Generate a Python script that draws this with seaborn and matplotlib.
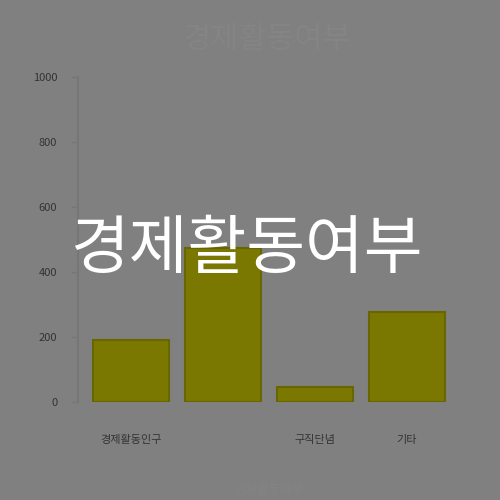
import numpy as np
import pandas as pd
import matplotlib.pyplot as plt
import seaborn as sns

# ==================== 데이터 ====================
categories = ["경제활동인구", "비경제활동인구", "구직단념", "기타"]
tick_labels = ["경제활동인구", "", "구직단념", "기타"]   # 두 번째 라벨은 겹쳐서 생략됨
counts = [190, 475, 46, 277]
y_ticks = [0, 200, 400, 600, 800, 1000]
title_text = "경제활동여부"

df = pd.DataFrame({"category": categories, "count": counts})

# ==================== 스타일 ====================
sns.set_theme(style="ticks")
plt.rcParams['font.family'] = ['Noto Sans CJK KR', 'DejaVu Sans']

bg = "#808080"
fig = plt.figure(figsize=(5, 5), dpi=100, facecolor=bg)
ax = fig.add_axes([78 / 500, 98 / 500, 382 / 500, 325 / 500], facecolor=bg)

sns.barplot(data=df, x="category", y="count", color="#7a7800",
            width=0.83, edgecolor="#686600", linewidth=1.5,
            saturation=1, ax=ax)

ax.set_xlim(-0.577, 3.58)
ax.set_ylim(0, 1000)
ax.set_yticks(y_ticks)
ax.set_yticklabels([str(v) for v in y_ticks], fontsize=8, color="#333333")
ax.set_xticks(range(len(categories)))
ax.set_xticklabels(tick_labels, fontsize=8, color="#333333")
ax.tick_params(axis="x", length=0, pad=24)
ax.tick_params(axis="y", length=5, width=1, color="#767676", pad=10)

# 축 정리
sns.despine(ax=ax, bottom=True)
ax.spines["left"].set_color("#767676")
ax.spines["left"].set_linewidth(1.5)

ax.set_xlabel(title_text, fontsize=9, color="#848484", labelpad=28)
ax.set_ylabel("")
fig.text(0.532, 0.92, title_text, fontsize=22, color="#848484",
         ha="center", va="center")

# 가운데 큰 제목
fig.text(0.493, 0.50, title_text, fontsize=46, color="white",
         ha="center", va="center")

fig.savefig("out.png", dpi=100, facecolor=bg)
